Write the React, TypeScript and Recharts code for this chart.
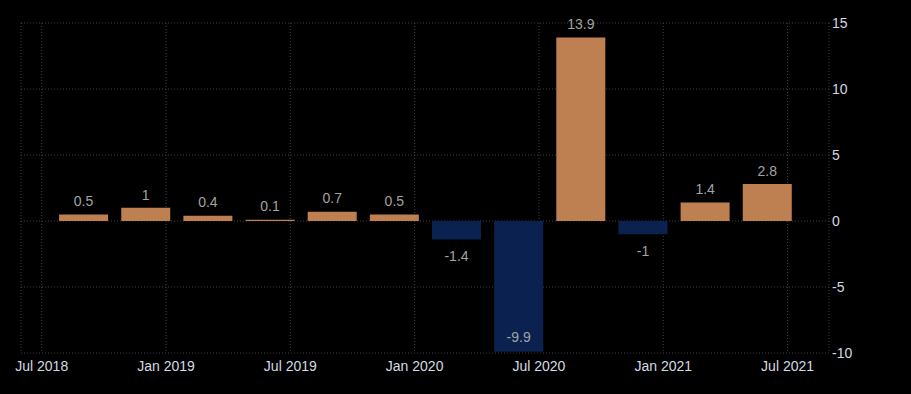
import { BarChart, Bar, XAxis, YAxis, CartesianGrid, Cell, LabelList } from "recharts";

// quarterly values
const quarters = [
  "Sep 2018", "Dec 2018", "Mar 2019", "Jun 2019", "Sep 2019", "Dec 2019",
  "Mar 2020", "Jun 2020", "Sep 2020", "Dec 2020", "Mar 2021", "Jun 2021",
];
const values = [0.5, 1, 0.4, 0.1, 0.7, 0.5, -1.4, -9.9, 13.9, -1, 1.4, 2.8];

const xTickLabels = ["Jul 2018", "Jan 2019", "Jul 2019", "Jan 2020", "Jul 2020", "Jan 2021", "Jul 2021"];
const yTicks = [-10, -5, 0, 5, 10, 15];

const MONTHS = ["Jan", "Feb", "Mar", "Apr", "May", "Jun", "Jul", "Aug", "Sep", "Oct", "Nov", "Dec"];
// months counted from Jul 2018
const monthIndex = (label: string) => {
  const [mon, year] = label.split(" ");
  return (Number(year) - 2018) * 12 + MONTHS.indexOf(mon) - 6;
};

const data = quarters.map((q, i) => ({ name: q, m: monthIndex(q), value: values[i] }));
const xTicks = xTickLabels.map(monthIndex);
const tickName: Record<number, string> = {};
xTickLabels.forEach((l) => (tickName[monthIndex(l)] = l));

const W = 911;
const H = 394;
const MARGIN = { top: 23, right: 22, bottom: 11, left: 21 };
const X_AXIS_H = 30;
const PLOT_BOTTOM = H - MARGIN.bottom - X_AXIS_H;

const ORANGE = "#BE8050";
const NAVY = "#0B2150";
const FONT = "'Liberation Sans', Arial, sans-serif";

const BarLabel = (props: any) => {
  const { x, y, width, height, value } = props;
  const top = Math.min(y, y + height);
  const bottom = Math.max(y, y + height);
  const cx = x + width / 2;
  let ty: number;
  if (value >= 0) ty = top - 12;
  else if (bottom + 26 > PLOT_BOTTOM) ty = bottom - 13;
  else ty = bottom + 18;
  return (
    <text x={cx} y={ty} fill="#a3a3a3" fontSize={14} fontFamily={FONT} textAnchor="middle" dominantBaseline="middle">
      {value}
    </text>
  );
};

export default function App() {
  return (
    <div style={{ position: "fixed", left: 0, top: 0, width: W, height: H, background: "#000" }}>
      <BarChart width={W} height={H} data={data} margin={MARGIN}>
        <CartesianGrid stroke="#404040" strokeDasharray="1 2" />
        <XAxis
          dataKey="m"
          type="number"
          domain={[-1, 38]}
          ticks={xTicks}
          tickFormatter={(v: number) => tickName[v] ?? ""}
          axisLine={false}
          tickLine={false}
          height={X_AXIS_H}
          tickSize={8}
          tickMargin={0}
          tick={{ fill: "#d3dae3", fontSize: 14, fontFamily: FONT }}
          interval={0}
        />
        <YAxis
          orientation="right"
          domain={[-10, 15]}
          ticks={yTicks}
          axisLine={false}
          tickLine={false}
          width={60}
          tickSize={3}
          tickMargin={0}
          tick={{ fill: "#d3dae3", fontSize: 14, fontFamily: FONT, textAnchor: "start" }}
          interval={0}
        />
        <Bar dataKey="value" barSize={49} isAnimationActive={false}>
          {data.map((d, i) => (
            <Cell key={i} fill={d.value >= 0 ? ORANGE : NAVY} />
          ))}
          <LabelList dataKey="value" content={BarLabel} />
        </Bar>
      </BarChart>
    </div>
  );
}
